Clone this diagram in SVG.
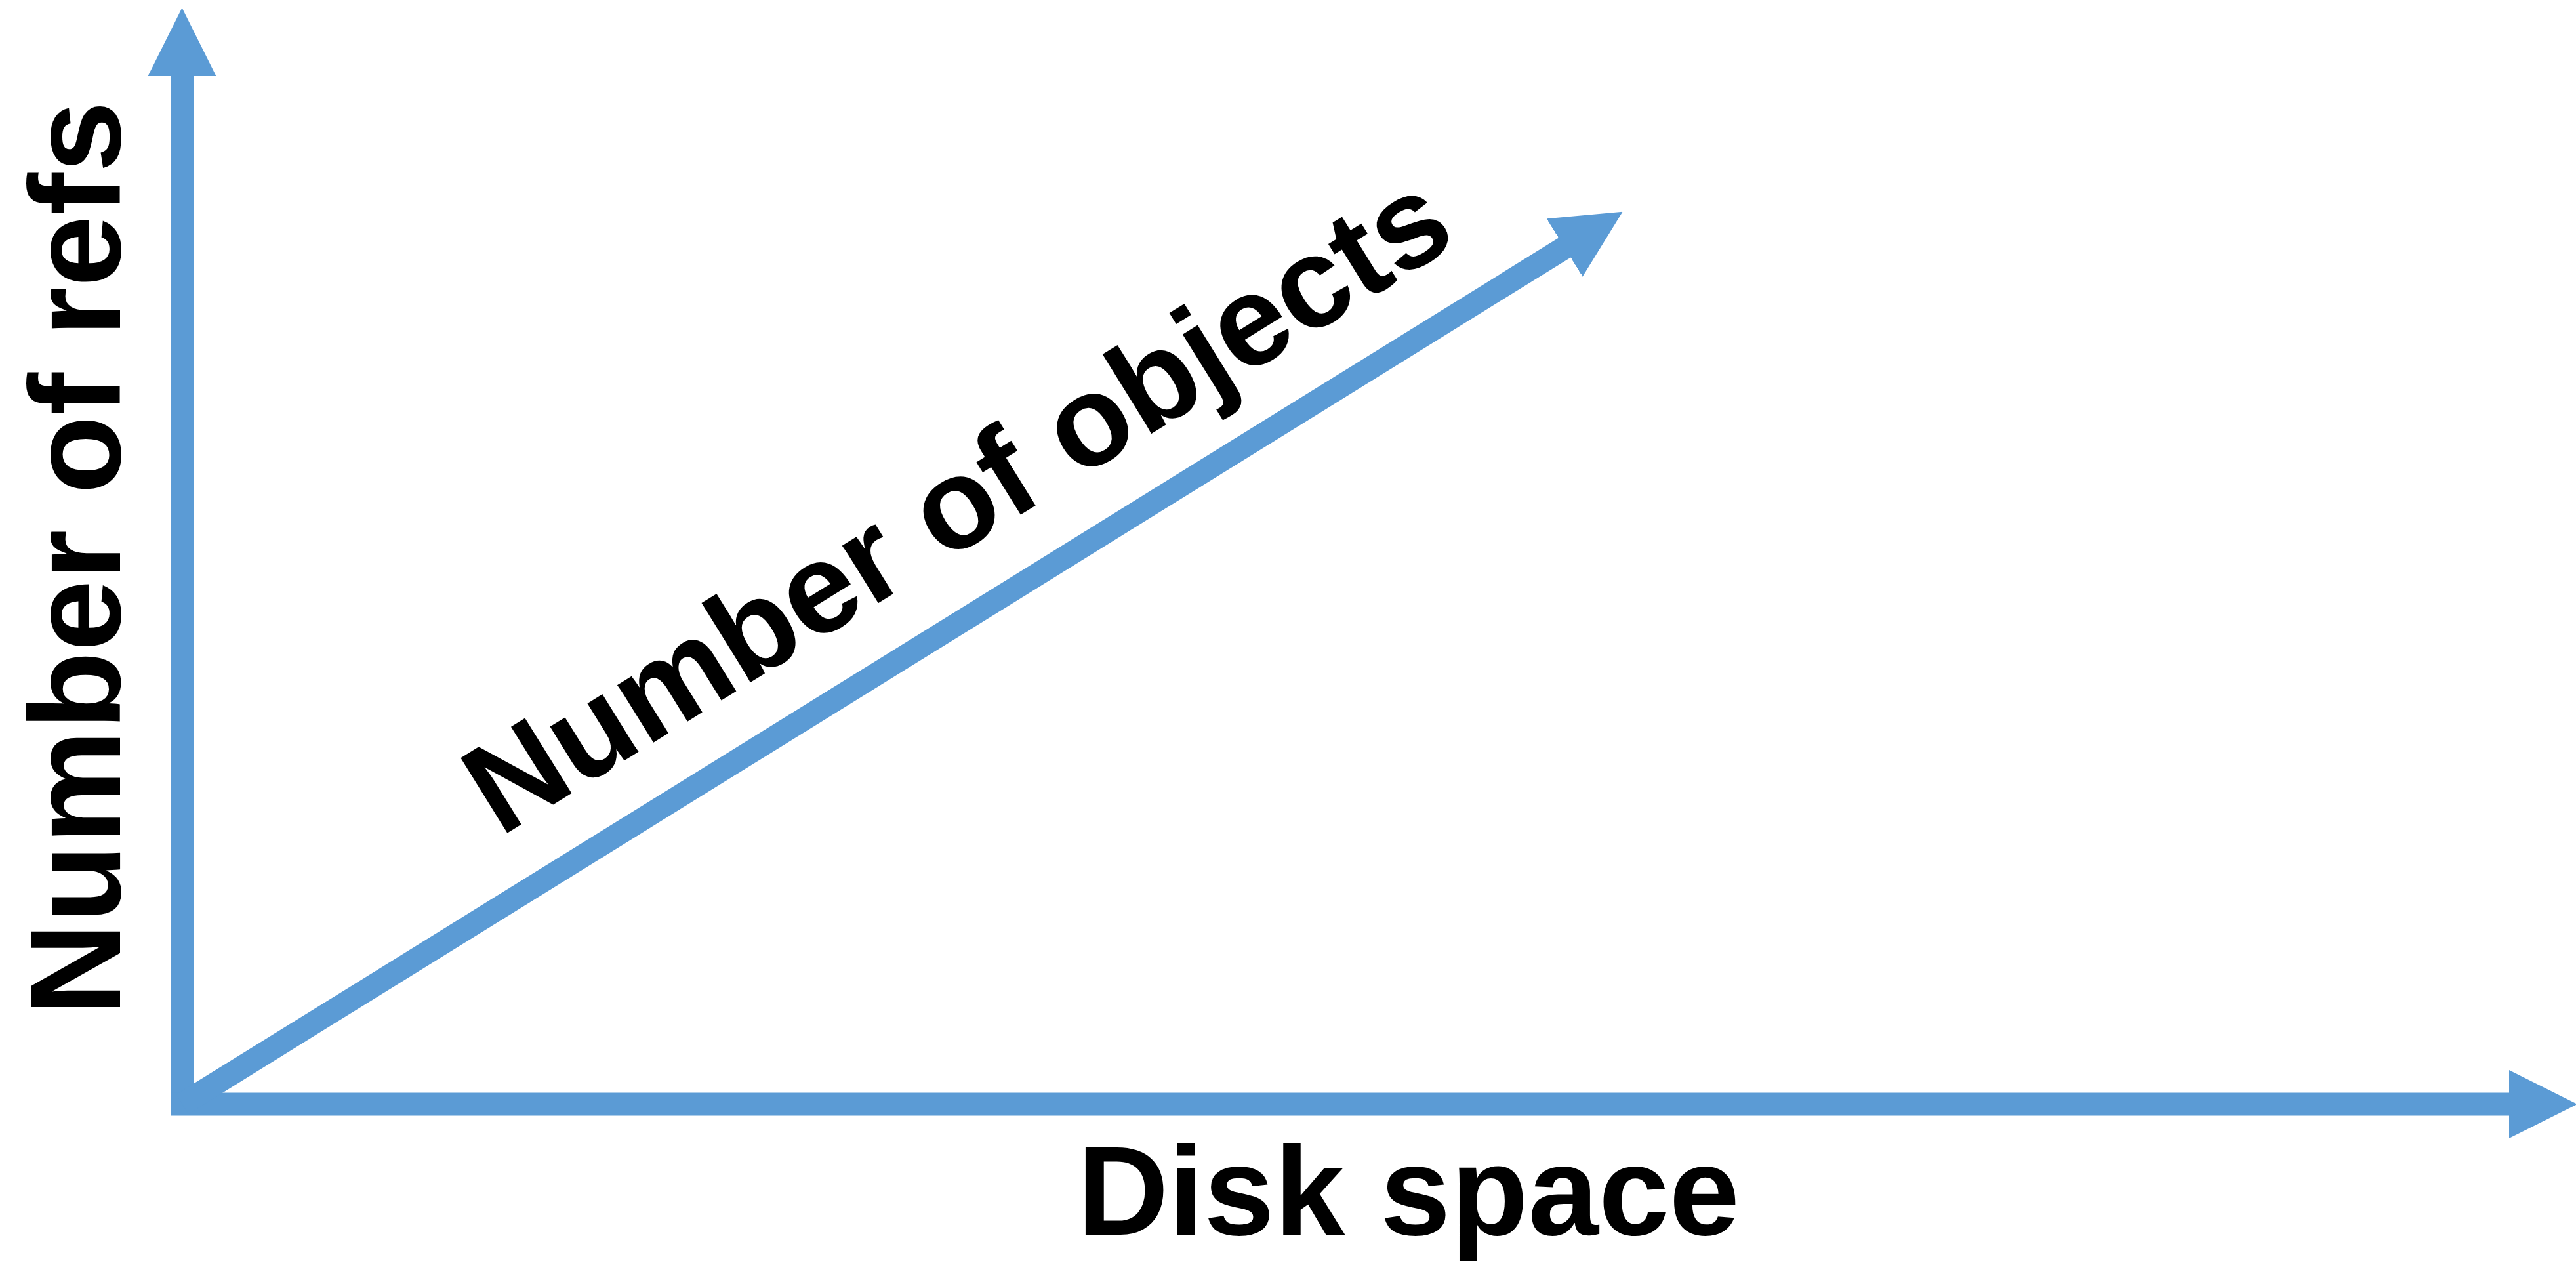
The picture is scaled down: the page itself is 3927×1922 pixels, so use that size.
<svg xmlns="http://www.w3.org/2000/svg" width="3927" height="1922" viewBox="0 0 3927 1922">
  <style>
    .axis { stroke: #5B9BD5; stroke-width: 35; fill: none; stroke-linecap: butt; marker-end: url(#head); }
    .label { font-family: "Liberation Sans", Arial, sans-serif; font-weight: bold; fill: #000000; font-size: 196px; }
  </style>
  <defs>
    <marker id="head" markerUnits="userSpaceOnUse" markerWidth="104" markerHeight="104" viewBox="0 0 103 103" refX="1" refY="51.5" orient="auto">
      <path d="M0,0 L103,51.5 L0,103 Z" fill="#5B9BD5"/>
    </marker>
  </defs>
  <rect width="3927" height="1922" fill="#ffffff"/>

  <!-- axes -->
  <g id="connectors">
    <line id="axis-refs" class="axis" x1="277.5" y1="1700" x2="277.5" y2="115"/>
    <line id="axis-space" class="axis" x1="260" y1="1683" x2="3826" y2="1683"/>
    <line id="axis-objects" class="axis" x1="278" y1="1683" x2="2386" y2="377"/>
  </g>

  <!-- axis labels -->
  <g id="label-refs">
    <text class="label" transform="translate(183,851) rotate(-90)" text-anchor="middle" textLength="1394" lengthAdjust="spacingAndGlyphs">Number of refs</text>
  </g>
  <g id="label-space">
    <text class="label" x="2147" y="1882" style="font-size:193px" text-anchor="middle" textLength="1010" lengthAdjust="spacingAndGlyphs">Disk space</text>
  </g>
  <g id="label-objects">
    <text class="label" transform="translate(1494,823) rotate(-31.8)" text-anchor="middle" textLength="1722" lengthAdjust="spacingAndGlyphs">Number of objects</text>
  </g>
</svg>
